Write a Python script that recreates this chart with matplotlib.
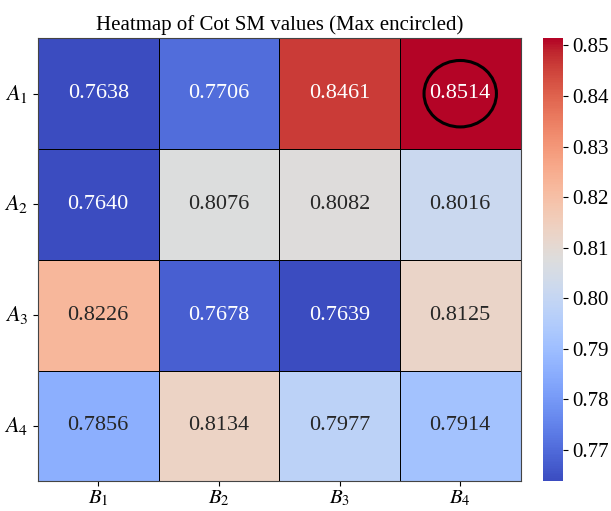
import matplotlib
matplotlib.use('Agg')
import matplotlib.pyplot as plt
import numpy as np
import seaborn as sns
from matplotlib.patches import Circle

# Cot SM values, rows A1..A4, columns B1..B4
row_a1 = [0.7638, 0.7706, 0.8461, 0.8514]
row_a2 = [0.7640, 0.8076, 0.8082, 0.8016]
row_a3 = [0.8226, 0.7678, 0.7639, 0.8125]
row_a4 = [0.7856, 0.8134, 0.7977, 0.7914]
row_labels = [r'$A_1$', r'$A_2$', r'$A_3$', r'$A_4$']
col_labels = [r'$B_1$', r'$B_2$', r'$B_3$', r'$B_4$']

plt.rcParams['font.family'] = ['Liberation Serif', 'DejaVu Serif']
plt.rcParams['mathtext.fontset'] = 'stix'

vals = np.array([row_a1, row_a2, row_a3, row_a4])

fig = plt.figure(figsize=(6.11, 5.11), dpi=100)
ax = fig.add_axes([0.062, 0.058, 0.79, 0.867])
cax = fig.add_axes([0.889, 0.058, 0.032, 0.867])

sns.heatmap(vals, annot=True, fmt='.4f', cmap='coolwarm', ax=ax, cbar_ax=cax,
            linewidths=0.6, linecolor='black', annot_kws={'fontsize': 16},
            xticklabels=col_labels, yticklabels=row_labels)

ax.set_title('Heatmap of Cot SM values (Max encircled)', fontsize=15)
ax.tick_params(axis='y', labelsize=16)
ax.tick_params(axis='x', labelsize=15, pad=2)
ax.set_yticklabels(row_labels, rotation=0)
cax.tick_params(labelsize=15)

# circle the maximum
i, j = np.unravel_index(np.argmax(vals), vals.shape)
ax.add_patch(Circle((j + 0.5, i + 0.5), 0.3, fill=False, edgecolor='black', lw=2.2))

for s in ax.spines.values():
    s.set_visible(True)
    s.set_edgecolor('#444444')
    s.set_linewidth(0.8)

fig.savefig('out.png', dpi=100)
